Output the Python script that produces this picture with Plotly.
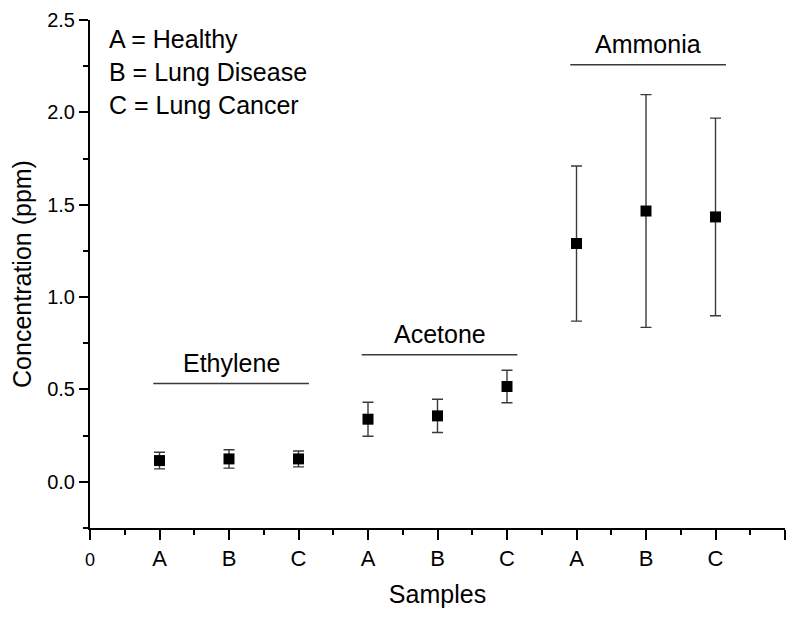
import plotly.graph_objects as go

# sample positions on the numeric x axis and their labels
x_pos = [1, 2, 3, 4, 5, 6, 7, 8, 9]
tick_vals = [0, 1, 2, 3, 4, 5, 6, 7, 8, 9, 10]
tick_text = ["<span style='font-size:18px'>0</span>", "A", "B", "C", "A", "B", "C", "A", "B", "C", ""]

# mean concentration (ppm) and error
conc = [0.115, 0.124, 0.124, 0.339, 0.357, 0.516, 1.29, 1.466, 1.434]
err = [0.045, 0.05, 0.043, 0.092, 0.09, 0.088, 0.42, 0.63, 0.535]

# compound groups: label, first/last sample index, level of the bracket line
groups = ["Ethylene", "Acetone", "Ammonia"]
group_first = [1, 4, 7]
group_last = [3, 6, 9]
group_level = [0.532, 0.688, 2.258]

key_lines = ["A = Healthy", "B = Lung Disease", "C = Lung Cancer"]

FONT = "Liberation Sans, Arial, sans-serif"

fig = go.Figure()
fig.add_trace(go.Scatter(
    x=x_pos, y=conc, mode="markers",
    marker=dict(symbol="square", size=11, color="black"),
    error_y=dict(type="data", array=err, visible=True, color="#3a3a3a", thickness=1.4, width=5.5),
    showlegend=False,
))

for name, a, b, lev in zip(groups, group_first, group_last, group_level):
    fig.add_shape(type="line", xref="x", yref="y", x0=a - 0.09, x1=b + 0.15, y0=lev, y1=lev,
                  line=dict(color="#3a3a3a", width=1.4))
    fig.add_annotation(x=(a + b) / 2 + 0.03, y=lev, xref="x", yref="y", text=name, showarrow=False,
                       yanchor="bottom", yshift=5, font=dict(size=25, color="black", family=FONT))

for i, t in enumerate(key_lines):
    fig.add_annotation(x=0.024, y=0.963 - i * 0.065, xref="paper", yref="paper", text=t,
                       showarrow=False, xanchor="left", yanchor="middle",
                       font=dict(size=25, color="black", family=FONT))

# page body has an 8px margin, so the margins here are offset by that
fig.update_layout(
    width=797, height=621,
    margin=dict(l=82, r=20, t=12, b=101),
    plot_bgcolor="white", paper_bgcolor="white",
    font=dict(family=FONT, color="black"),
    xaxis=dict(
        range=[0, 10], tickmode="array", tickvals=tick_vals, ticktext=tick_text, automargin=False,
        showgrid=False, zeroline=False, showline=True, linecolor="black", linewidth=2,
        ticks="outside", ticklen=10, tickwidth=2, tickcolor="black",
        tickfont=dict(size=22, family=FONT, color="black"), ticklabeloverflow="allow",
        minor=dict(dtick=0.5, tick0=0, ticks="outside", ticklen=5, tickwidth=2, tickcolor="black"),
        title=dict(text="Samples", font=dict(size=25, family=FONT, color="black"), standoff=15),
    ),
    yaxis=dict(
        range=[-0.25, 2.5], tickmode="linear", tick0=0, dtick=0.5, tickformat=".1f", automargin=False,
        showgrid=False, zeroline=False, showline=True, linecolor="black", linewidth=2,
        ticks="outside", ticklen=9, tickwidth=2, tickcolor="black",
        tickfont=dict(size=20, family=FONT, color="black"), ticklabeloverflow="allow",
        minor=dict(dtick=0.25, tick0=0, ticks="outside", ticklen=5, tickwidth=2, tickcolor="black"),
        title=dict(text="Concentration (ppm)", font=dict(size=25, family=FONT, color="black"), standoff=9),
    ),
)

fig.write_html("out.html")
